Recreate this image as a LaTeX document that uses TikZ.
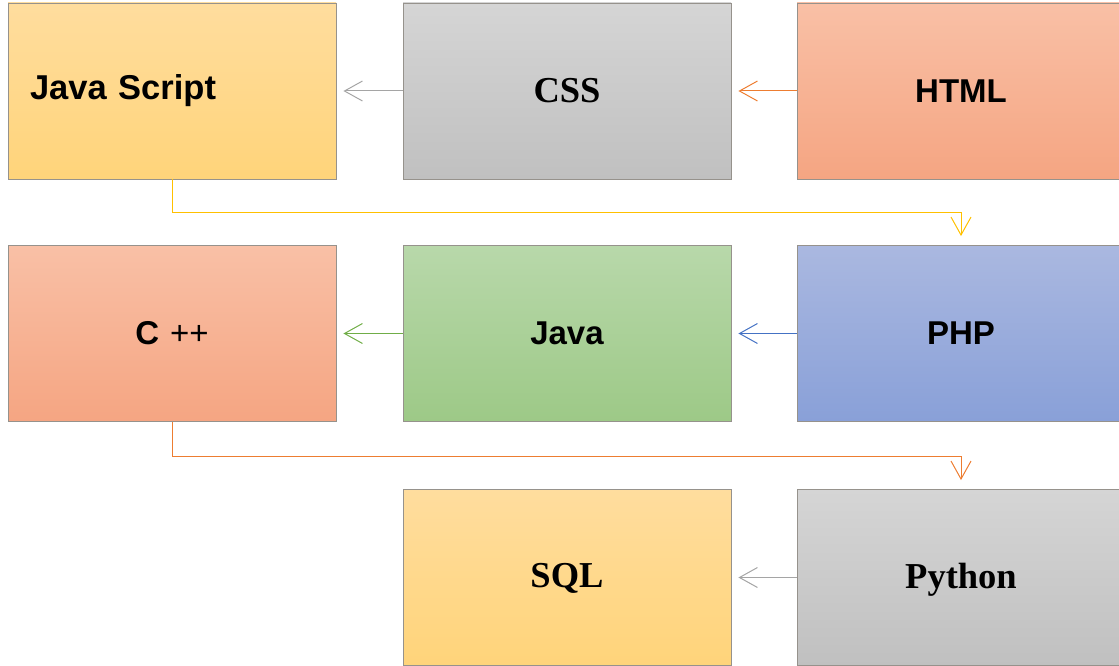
\documentclass[tikz,border=0pt]{standalone}
\usepackage{fontspec}
\newfontfamily\sansfam{Liberation Sans}
\newfontfamily\seriffam{Liberation Serif}
\usetikzlibrary{arrows.meta}
\definecolor{ytop}{RGB}{255,221,158}
\definecolor{ybot}{RGB}{255,212,122}
\definecolor{otop}{RGB}{249,192,166}
\definecolor{obot}{RGB}{245,165,130}
\definecolor{gtop}{RGB}{213,213,213}
\definecolor{gbot}{RGB}{192,192,192}
\definecolor{btop}{RGB}{170,184,224}
\definecolor{bbot}{RGB}{137,160,216}
\definecolor{ntop}{RGB}{184,216,170}
\definecolor{nbot}{RGB}{157,201,135}
\definecolor{boxline}{RGB}{150,146,140}
\definecolor{lgray}{RGB}{165,165,165}
\definecolor{lorange}{RGB}{237,125,49}
\definecolor{lyellow}{RGB}{255,192,0}
\definecolor{lblue}{RGB}{68,114,196}
\definecolor{lgreen}{RGB}{112,173,71}
\tikzset{
  box/.style={rectangle, draw=boxline, line width=0.9pt, minimum width=328pt, minimum height=176pt, inner sep=0pt},
  ybox/.style={box, top color=ytop, bottom color=ybot},
  obox/.style={box, top color=otop, bottom color=obot},
  gbox/.style={box, top color=gtop, bottom color=gbot},
  bbox/.style={box, top color=btop, bottom color=bbot},
  nbox/.style={box, top color=ntop, bottom color=nbot},
  sanslab/.style={font=\sansfam\bfseries\fontsize{33}{36}\selectfont},
  seriflab/.style={font=\seriffam\bfseries\fontsize{36.5}{40}\selectfont},
  conn/.style={line width=1pt, -{Straight Barb[length=18pt,width=20pt,line width=1pt]}, shorten >=7pt},
  vconn/.style={line width=1pt, -{Straight Barb[length=18pt,width=20pt,line width=1pt]}, shorten >=9pt}
}
\begin{document}
\begin{tikzpicture}[x=1pt,y=-1pt]
\useasboundingbox (0,0) rectangle (1119,666);
\begin{scope}
\clip (0,0) rectangle (1119,666);
\node[ybox, sanslab, font=\sansfam\bfseries\fontsize{34.5}{38}\selectfont, text width=284pt, inner xsep=22pt, align=left] (js) at (172,91) {Java Script};
\node[gbox, seriflab] (css) at (567,91) {CSS};
\node[obox, sanslab] (html) at (961,91) {HTML};
\node[obox, sanslab] (cpp) at (172,333.5) {C\,\,{\mdseries\fontsize{33}{36}\selectfont ++}};
\node[nbox, sanslab] (java) at (567,333.5) {Java};
\node[bbox, sanslab] (php) at (961,333.5) {PHP};
\node[ybox, seriflab, text depth=4pt] (sql) at (567,577.5) {SQL};
\node[gbox, seriflab, text depth=4pt] (py) at (961,577.5) {Python};
\end{scope}
\draw[conn, lgray] (css.west) -- (js.east);
\draw[conn, lorange] (html.west) -- (css.east);
\draw[conn, lblue] (php.west) -- (java.east);
\draw[conn, lgreen] (java.west) -- (cpp.east);
\draw[conn, lgray] (py.west) -- (sql.east);
\draw[vconn, lyellow] (js.south) -- ++(0,33) -| (php.north);
\draw[vconn, lorange] (cpp.south) -- ++(0,35) -| (py.north);
\end{tikzpicture}
\end{document}
